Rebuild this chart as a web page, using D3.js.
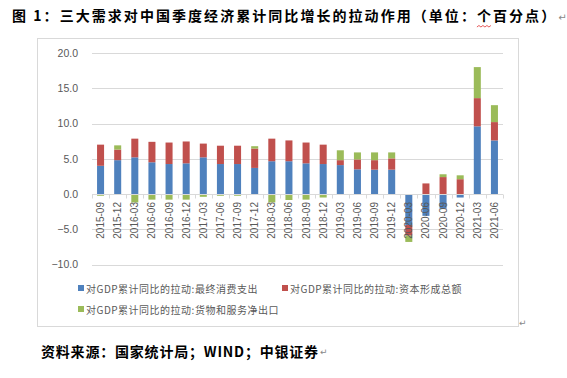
<!DOCTYPE html>
<html>
<head>
<meta charset="utf-8">
<script src="https://d3js.org/d3.v7.min.js"></script>
<style>
  body { margin: 0; background: #fff; }
  svg { display: block; }
</style>
</head>
<body>
<div id="container"></div>
<script>

// Quarters (cumulative year-to-date) and the pull of each demand component, in percentage points
const quarters = ["2015-09", "2015-12", "2016-03", "2016-06", "2016-09", "2016-12",
  "2017-03", "2017-06", "2017-09", "2017-12", "2018-03", "2018-06", "2018-09", "2018-12",
  "2019-03", "2019-06", "2019-09", "2019-12", "2020-03", "2020-06", "2020-09", "2020-12",
  "2021-03", "2021-06"];
const consumption = [4.0, 4.8, 5.2, 4.5, 4.25, 4.35, 5.2, 4.25, 4.25, 3.7, 4.65, 4.65,
  4.35, 4.25, 4.1, 3.5, 3.45, 3.45, -4.4, -3.1, -2.1, -0.5, 9.6, 7.6];
const capital = [3.0, 1.5, 2.65, 2.9, 3.05, 3.1, 1.95, 2.6, 2.6, 2.75, 3.2, 2.95,
  2.95, 2.75, 0.7, 1.4, 1.35, 1.6, -1.5, 1.5, 2.4, 2.1, 4.0, 2.6];
const netExports = [-0.25, 0.6, -1.2, -0.8, -0.8, -0.8, -0.4, -0.25, -0.25, 0.33, -1.2, -0.85,
  -0.8, -0.5, 1.4, 1.0, 1.1, 0.85, -0.9, 0.0, 0.4, 0.55, 4.4, 2.4];

const seriesNames = ["对GDP累计同比的拉动:最终消费支出", "对GDP累计同比的拉动:资本形成总额", "对GDP累计同比的拉动:货物和服务净出口"];
const yTicks = [-10, -5, 0, 5, 10, 15, 20];

const width = 567, height = 378;
const colors = ["#4F81BD", "#C0504D", "#9BBB59"];
const grey = "#595959";

const rows = quarters.map((q, i) => ({ q, c: consumption[i], k: capital[i], n: netExports[i] }));

const svg = d3.select("#container").append("svg")
    .attr("width", width)
    .attr("height", height);

// title
const title = svg.append("text")
    .attr("x", 12)
    .attr("y", 21)
    .attr("font-family", "'Noto Sans CJK SC'")
    .attr("font-weight", "bold")
    .attr("font-size", 14)
    .attr("letter-spacing", 2.05)
    .attr("fill", "#000")
    .text("图 1：三大需求对中国季度经济累计同比增长的拉动作用（单位：个百分点）");

svg.append("text")
    .attr("x", 12 + title.node().getComputedTextLength() + 1).attr("y", 21)
    .attr("font-size", 10).attr("fill", "#888")
    .attr("font-family", "'DejaVu Sans'")
    .text("↵");

// chart frame
svg.append("rect")
    .attr("x", 37.5).attr("y", 38.5)
    .attr("width", 481).attr("height", 288)
    .attr("fill", "none")
    .attr("stroke", "#d9d9d9");

const x = d3.scaleBand()
    .domain(quarters)
    .range([92, 503])
    .paddingInner(0.59)
    .paddingOuter(0.295);

const y = d3.scaleLinear()
    .domain([-10, 20])
    .range([264.5, 53]);

// gridlines
svg.append("g")
  .selectAll("line")
  .data(yTicks.filter(d => d !== 0))
  .join("line")
    .attr("x1", 92).attr("x2", 503)
    .attr("y1", d => Math.round(y(d)) + 0.5)
    .attr("y2", d => Math.round(y(d)) + 0.5)
    .attr("stroke", "#d9d9d9");

// y labels
svg.append("g")
    .attr("transform", "translate(78,0)")
    .call(d3.axisLeft(y).tickValues(yTicks).tickSize(0).tickPadding(0).tickFormat(d3.format(".1f")))
    .call(g => g.select(".domain").remove())
    .call(g => g.selectAll("text")
        .attr("font-family", "'Liberation Sans'")
        .attr("font-size", 10.5)
        .attr("fill", grey));

// stacked bars, negatives stacked below zero
const stack = d3.stack()
    .keys(["c", "k", "n"])
    .offset(d3.stackOffsetDiverging);
const layers = stack(rows);

svg.append("g")
  .selectAll("g")
  .data(layers)
  .join("g")
    .attr("fill", (d, i) => colors[i])
  .selectAll("rect")
  .data(d => d)
  .join("rect")
    .attr("x", d => x(d.data.q))
    .attr("width", x.bandwidth())
    .attr("y", d => y(Math.max(d[0], d[1])))
    .attr("height", d => Math.abs(y(d[0]) - y(d[1])));

// category axis at zero with tick marks between categories
const zeroY = Math.round(y(0)) + 0.5;
const axis = svg.append("g").attr("stroke", "#d9d9d9");
axis.append("line")
    .attr("x1", 92).attr("x2", 503)
    .attr("y1", zeroY).attr("y2", zeroY);
const bounds = quarters.map(q => x(q) + x.bandwidth() / 2 - x.step() / 2);
bounds.push(503);
axis.selectAll("line.tick")
  .data(bounds)
  .join("line")
    .attr("class", "tick")
    .attr("x1", d => Math.round(d) + 0.5).attr("x2", d => Math.round(d) + 0.5)
    .attr("y1", zeroY).attr("y2", zeroY + 4);

// rotated category labels
svg.append("g")
  .selectAll("text")
  .data(quarters)
  .join("text")
    .attr("transform", d => `translate(${x(d) + x.bandwidth() / 2 + 3.5},202) rotate(-90)`)
    .attr("text-anchor", "end")
    .attr("font-family", "'Liberation Sans'")
    .attr("font-size", 10)
    .attr("fill", grey)
    .text(d => d);

// legend
const legendPos = [[78, 289], [282, 289], [78, 310]];
const legend = svg.append("g")
  .selectAll("g")
  .data(seriesNames)
  .join("g")
    .attr("transform", (d, i) => `translate(${legendPos[i][0]},${legendPos[i][1]})`);
legend.append("rect")
    .attr("x", 0).attr("y", -4)
    .attr("width", 6).attr("height", 6)
    .attr("fill", (d, i) => colors[i]);
legend.append("text")
    .attr("x", 8).attr("y", 3.5)
    .attr("font-family", "'Noto Sans CJK SC'")
    .attr("font-size", 10)
    .attr("letter-spacing", 0.5)
    .attr("fill", grey)
    .text(d => d);

svg.append("text")
    .attr("x", 519).attr("y", 326)
    .attr("font-size", 9).attr("fill", "#888")
    .attr("font-family", "'DejaVu Sans'")
    .text("↵");

// source
const source = svg.append("text")
    .attr("x", 41)
    .attr("y", 357)
    .attr("font-family", "'Noto Sans CJK SC'")
    .attr("font-weight", "bold")
    .attr("font-size", 14)
    .attr("letter-spacing", 0.8)
    .attr("fill", "#000")
    .text("资料来源：国家统计局；WIND；中银证券");
const sl = source.node().getComputedTextLength();
svg.append("text")
    .attr("x", 41 + sl + 1).attr("y", 355)
    .attr("font-size", 9).attr("fill", "#888")
    .attr("font-family", "'DejaVu Sans'")
    .text("↵");

// spell-check squiggle under 个
const tn = title.node();
const idx = tn.textContent.indexOf("个");
const ext = tn.getExtentOfChar(idx);
const squig = d3.path();
squig.moveTo(ext.x, 27);
for (let px = ext.x, k = 0; px < ext.x + ext.width - 3; px += 2, k++) {
  squig.lineTo(px + 2, k % 2 ? 27 : 25.5);
}
svg.append("path")
    .attr("d", squig.toString())
    .attr("fill", "none")
    .attr("stroke", "#e03030")
    .attr("stroke-width", 0.8);

</script>
</body>
</html>
